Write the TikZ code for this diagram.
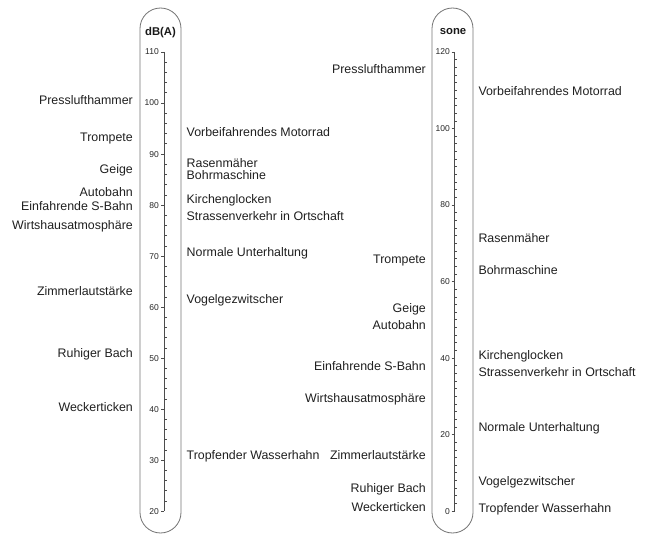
\documentclass[tikz,border=0pt]{standalone}
\usepackage{fontspec}
\setmainfont{Liberation Sans}
\begin{document}
\begin{tikzpicture}[x=1pt,y=-1pt,
  lbl/.style={font=\fontsize{12.4}{14}\selectfont, text=black!88, inner sep=0pt},
  lblL/.style={lbl, anchor=base east},
  lblR/.style={lbl, anchor=base west},
  num/.style={font=\fontsize{8.5}{9}\selectfont, text=black!85, inner sep=0pt, anchor=base east},
  hdr/.style={font=\bfseries\fontsize{11.3}{13}\selectfont, text=black!90, inner sep=0pt, anchor=base},
  tube/.style={draw=black!55, line width=0.8pt, rounded corners=20.5pt},
  axisline/.style={draw=black!70, line width=0.6pt}]
\useasboundingbox (0,0) rectangle (649,535);
% tubes
\draw[tube] (140,8) rectangle (181,533);
\draw[tube] (432,8) rectangle (473,533);
\node[hdr] (dbh) at (160.5,36) {dB(A)};
\node[hdr] (soneh) at (453,35) {sone};
% dB axis
\draw[axisline] (164.3,52) -- (164.3,511);
\foreach \v in {20,30,...,110} {
  \pgfmathsetmacro\yy{52+(110-\v)*5.1}
  \draw[axisline] (161.3,\yy) -- (164.3,\yy);
  \node[num] (db\v) at (159,\yy+3.0) {\v};
}
\foreach \i in {0,...,8} {
  \foreach \j in {1,...,4} {
    \pgfmathsetmacro\yy{52+(110-(20+10*\i+2*\j))*5.1}
    \draw[axisline] (164.3,\yy) -- (166.5,\yy);
  }
}
% sone axis
\draw[axisline] (454.5,52) -- (454.5,511);
\foreach \v in {0,20,...,120} {
  \pgfmathsetmacro\yy{52+(120-\v)*3.825}
  \draw[axisline] (451.5,\yy) -- (454.5,\yy);
  \node[num] (so\v) at (450,\yy+3.0) {\v};
}
\foreach \i in {0,...,5} {
  \foreach \j in {1,...,9} {
    \pgfmathsetmacro\yy{52+(120-(20*\i+2*\j))*3.825}
    \draw[axisline] (454.5,\yy) -- (456.7,\yy);
  }
}
% dB labels, left
\node[lblL] (a1) at (133,104.5) {Presslufthammer};
\node[lblL] (a2) at (133,141.7) {Trompete};
\node[lblL] (a3) at (133,173.7) {Geige};
\node[lblL] (a4) at (133,196.7) {Autobahn};
\node[lblL] (a5) at (133,210) {Einfahrende S-Bahn};
\node[lblL] (a6) at (133,229.4) {Wirtshausatmosphäre};
\node[lblL] (a7) at (133,295) {Zimmerlautstärke};
\node[lblL] (a8) at (133,357) {Ruhiger Bach};
\node[lblL] (a9) at (133,411) {Weckerticken};
% dB labels, right
\node[lblR] (b1) at (186.5,136.5) {Vorbeifahrendes Motorrad};
\node[lblR] (b2) at (186.5,167.4) {Rasenmäher};
\node[lblR] (b3) at (186.5,179) {Bohrmaschine};
\node[lblR] (b4) at (186.5,203.4) {Kirchenglocken};
\node[lblR] (b5) at (186.5,220.5) {Strassenverkehr in Ortschaft};
\node[lblR] (b6) at (186.5,256.4) {Normale Unterhaltung};
\node[lblR] (b7) at (186.5,303.7) {Vogelgezwitscher};
\node[lblR] (b8) at (186.5,459.4) {Tropfender Wasserhahn};
% sone labels, left
\node[lblL] (c1) at (426,73.7) {Presslufthammer};
\node[lblL] (c2) at (426,263.4) {Trompete};
\node[lblL] (c3) at (426,312.5) {Geige};
\node[lblL] (c4) at (426,329.4) {Autobahn};
\node[lblL] (c5) at (426,370.4) {Einfahrende S-Bahn};
\node[lblL] (c6) at (426,402.7) {Wirtshausatmosphäre};
\node[lblL] (c7) at (426,459.4) {Zimmerlautstärke};
\node[lblL] (c8) at (426,492.7) {Ruhiger Bach};
\node[lblL] (c9) at (426,511) {Weckerticken};
% sone labels, right
\node[lblR] (d1) at (478.3,96) {Vorbeifahrendes Motorrad};
\node[lblR] (d2) at (478.3,242.4) {Rasenmäher};
\node[lblR] (d3) at (478.3,274.4) {Bohrmaschine};
\node[lblR] (d4) at (478.3,359.4) {Kirchenglocken};
\node[lblR] (d5) at (478.3,376) {Strassenverkehr in Ortschaft};
\node[lblR] (d6) at (478.3,431.7) {Normale Unterhaltung};
\node[lblR] (d7) at (478.3,485) {Vogelgezwitscher};
\node[lblR] (d8) at (478.3,512) {Tropfender Wasserhahn};
\end{tikzpicture}
\end{document}
